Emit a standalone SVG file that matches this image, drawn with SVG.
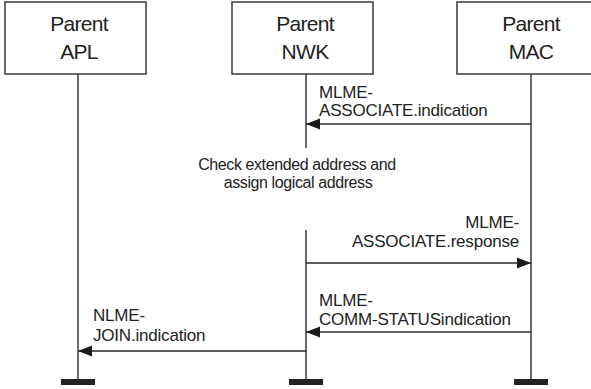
<svg xmlns="http://www.w3.org/2000/svg" width="591" height="389" viewBox="0 0 591 389">
  <style>
    .box { fill: #ffffff; stroke: #3a3a3a; stroke-width: 1.5; }
    .title { font-family: "Liberation Sans", Arial, sans-serif; font-size: 21px; fill: #222; text-anchor: middle; letter-spacing: -0.7px; }
    .life { stroke: #3a3a3a; stroke-width: 1.5; fill: none; }
    .msg { stroke: #2a2a2a; stroke-width: 1.5; fill: none; }
    .bar { fill: #222; }
    .lbl { font-family: "Liberation Sans", Arial, sans-serif; font-size: 17px; fill: #222; letter-spacing: -0.2px; }
    .note { font-family: "Liberation Sans", Arial, sans-serif; font-size: 16px; fill: #222; text-anchor: middle; letter-spacing: -0.4px; }
  </style>
  <defs>
    <marker id="head" markerWidth="14" markerHeight="12" refX="14" refY="6" orient="auto" markerUnits="userSpaceOnUse">
      <path d="M0,0.5 L14,6 L0,11.5 Z" fill="#1a1a1a"/>
    </marker>
  </defs>

  <rect width="591" height="389" fill="#ffffff"/>

  <!-- participants -->
  <g id="parent-apl">
    <rect class="box" x="5" y="2" width="141" height="72"/>
    <text class="title" x="79" y="31">Parent</text>
    <text class="title" x="79" y="59">APL</text>
    <line class="life" x1="78" y1="74" x2="78" y2="382"/>
    <rect class="bar" x="61" y="379" width="34" height="6"/>
  </g>
  <g id="parent-nwk">
    <rect class="box" x="232" y="2" width="141" height="72"/>
    <text class="title" x="305" y="31">Parent</text>
    <text class="title" x="305" y="59">NWK</text>
    <line class="life" x1="306" y1="74" x2="306" y2="148"/>
    <line class="life" x1="306" y1="230" x2="306" y2="382"/>
    <rect class="bar" x="289" y="379" width="34" height="6"/>
  </g>
  <g id="parent-mac">
    <rect class="box" x="457" y="2" width="140" height="72"/>
    <text class="title" x="531" y="31">Parent</text>
    <text class="title" x="531" y="59">MAC</text>
    <line class="life" x1="531" y1="74" x2="531" y2="382"/>
    <rect class="bar" x="514" y="379" width="34" height="6"/>
  </g>

  <!-- processing note on the NWK lifeline -->
  <g id="nwk-note">
    <text class="note" x="297" y="170">Check extended address and</text>
    <text class="note" x="298" y="188">assign logical address</text>
  </g>

  <!-- messages -->
  <g id="connectors">
    <line class="msg" x1="531" y1="124" x2="306" y2="124" marker-end="url(#head)"/>
    <line class="msg" x1="306" y1="263" x2="531" y2="263" marker-end="url(#head)"/>
    <line class="msg" x1="531" y1="332" x2="306" y2="332" marker-end="url(#head)"/>
    <line class="msg" x1="307" y1="351" x2="78" y2="351" marker-end="url(#head)"/>
  </g>

  <g id="labels">
    <text class="lbl" x="319" y="98">MLME-</text>
    <text class="lbl" x="319" y="116">ASSOCIATE.indication</text>

    <text class="lbl" x="519" y="228" text-anchor="end">MLME-</text>
    <text class="lbl" x="519" y="247" text-anchor="end">ASSOCIATE.response</text>

    <text class="lbl" x="319" y="306">MLME-</text>
    <text class="lbl" x="319" y="325">COMM-STATUSindication</text>

    <text class="lbl" x="93" y="321">NLME-</text>
    <text class="lbl" x="93" y="341">JOIN.indication</text>
  </g>
</svg>
